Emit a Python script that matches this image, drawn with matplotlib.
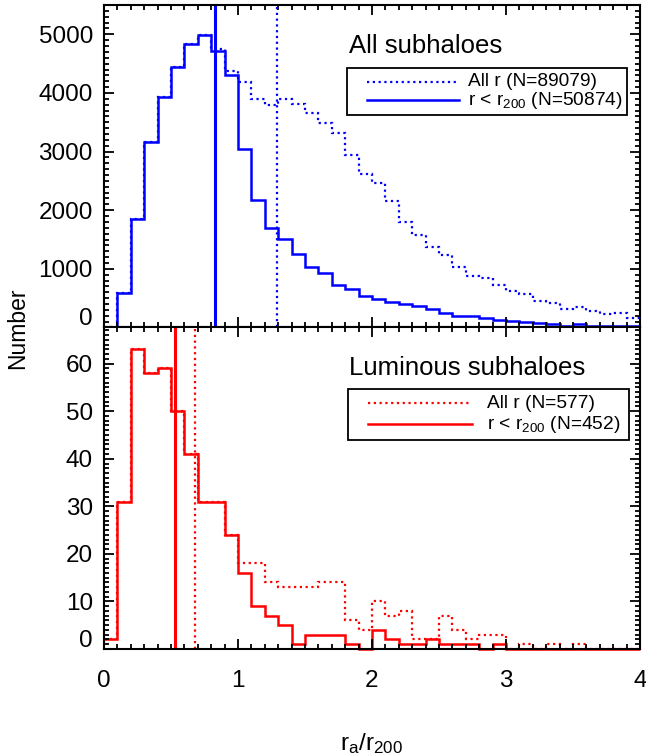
import numpy as np
import matplotlib
matplotlib.use("Agg")
import matplotlib.pyplot as plt
from matplotlib.ticker import MultipleLocator, FuncFormatter
from matplotlib.patches import Rectangle

plt.rcParams['font.family'] = ['Liberation Sans', 'DejaVu Sans']
plt.rcParams['mathtext.fontset'] = 'custom'
plt.rcParams['mathtext.rm'] = 'Liberation Sans'
plt.rcParams['mathtext.it'] = 'Liberation Sans'

# bins in r_a/r_200 (width 0.1, from 0 to 4)
bin_edges = np.round(np.linspace(0.0, 4.0, 41), 2)

# all subhaloes, r < r200 (solid) and all r (dotted)
all_inner = [0, 580, 1850, 3170, 3930, 4440, 4830, 4990, 4720, 4300,
             3040, 2170, 1690, 1510, 1250, 1040, 930, 730, 660, 540,
             490, 440, 400, 360, 315, 245, 200, 190, 170, 126,
             103, 100, 80, 58, 30, 58, 29, 29, 25, 20]
all_total = [0, 580, 1850, 3170, 3930, 4440, 4830, 4990, 4750, 4370,
             4190, 3890, 3800, 3890, 3810, 3660, 3490, 3310, 2950, 2620,
             2460, 2150, 1800, 1570, 1370, 1230, 1040, 880, 840, 730,
             615, 570, 455, 425, 315, 355, 285, 230, 240, 170]

# luminous subhaloes
lum_inner = [2, 31, 63, 58, 59, 50, 41, 31, 31, 24,
             16, 9, 7, 5, 1, 3, 3, 3, 1, 0,
             4, 2, 1, 1, 2, 1, 1, 1, 0, 1,
             0, 0, 0, 0, 0, 0, 0, 0, 0, 0]
lum_total = [2, 31, 63, 58, 59, 50, 41, 31, 31, 24,
             18, 18, 14, 13, 13, 13, 14, 14, 6, 4,
             10, 7, 8, 2, 2, 7, 4, 2, 3, 3,
             0, 1, 0, 1, 0, 1, 0, 0, 0, 0]

# medians
all_med_total, all_med_inner = 1.29, 0.83
lum_med_total, lum_med_inner = 0.68, 0.53

panels = [
    dict(inner=all_inner, total=all_total, med_in=all_med_inner, med_tot=all_med_total,
         color='#0000ff', title='All subhaloes', n_tot=89079, n_in=50874,
         ylim=5500, major=1000, minor=100),
    dict(inner=lum_inner, total=lum_total, med_in=lum_med_inner, med_tot=lum_med_total,
         color='#ff0000', title='Luminous subhaloes', n_tot=577, n_in=452,
         ylim=67.6, major=10, minor=1),
]

fig = plt.figure(figsize=(6.46, 7.56), dpi=100)
L, R = 104 / 646, 640 / 646
tops = [1 - 5 / 756, 1 - 327.5 / 756]
bots = [1 - 327.5 / 756, 1 - 649 / 756]
dots = (0, (1, 1.6))
no_zero = FuncFormatter(lambda v, pos: '' if v == 0 else '%d' % v)

for i, p in enumerate(panels):
    ax = fig.add_axes([L, bots[i], R - L, tops[i] - bots[i]])
    c = p['color']
    ax.stairs(p['total'], bin_edges, color=c, lw=1.6, linestyle=dots, baseline=None, clip_on=False)
    ax.stairs(p['inner'], bin_edges, color=c, lw=1.8, baseline=None, clip_on=False)
    ax.axvline(p['med_tot'], color=c, lw=1.6, linestyle=dots)
    ax.axvline(p['med_in'], color=c, lw=2.2)

    ax.set_xlim(0, 4)
    ax.set_ylim(0, p['ylim'])
    ax.xaxis.set_major_locator(MultipleLocator(1))
    ax.xaxis.set_minor_locator(MultipleLocator(0.1))
    ax.yaxis.set_major_locator(MultipleLocator(p['major']))
    ax.yaxis.set_minor_locator(MultipleLocator(p['minor']))
    ax.yaxis.set_major_formatter(no_zero)
    ax.tick_params(which='both', direction='in', top=True, right=True, width=1.3)
    ax.tick_params(which='major', length=7, labelsize=17.5)
    ax.tick_params(axis='y', which='major', pad=8)
    ax.tick_params(axis='x', which='major', pad=15)
    ax.tick_params(which='minor', length=3.5)
    for s in ax.spines.values():
        s.set_linewidth(1.5)
    if i == 0:
        ax.tick_params(labelbottom=False)
    # zero label sits a little above the axis
    ax.annotate('0', xy=(0, 0), xycoords=('axes fraction', 'data'), xytext=(-8, 6),
                textcoords='offset points', ha='right', va='center', fontsize=17.5)

    # title and hand-drawn legend box
    ax.text(0.457, 0.852, p['title'], transform=ax.transAxes, fontsize=18.5, va='baseline')
    if i == 0:
        bx, by, bw, bh = 0.453, 0.658, 0.523, 0.147
        r1, r2, lx0, lx1, tx = 0.762, 0.705, 0.490, 0.662, 0.679
    else:
        bx, by, bw, bh = 0.455, 0.650, 0.525, 0.158
        r1, r2, lx0, lx1, tx = 0.765, 0.699, 0.4925, 0.686, 0.714
    ax.add_patch(Rectangle((bx, by), bw, bh, transform=ax.transAxes, fill=False,
                           lw=1.3, ec='black'))
    ax.plot([lx0, lx1], [r1, r1], transform=ax.transAxes, color=c, lw=1.6, linestyle=dots)
    ax.plot([lx0, lx1], [r2, r2], transform=ax.transAxes, color=c, lw=1.8)
    ax.text(tx, r1, 'All r (N=%d)' % p['n_tot'], transform=ax.transAxes,
            fontsize=13.8, ha='left', va='center')
    ax.text(tx, r2, r'r < r$_{\mathregular{200}}$ (N=%d)' % p['n_in'], transform=ax.transAxes,
            fontsize=13.8, ha='left', va='center')
    if i == 1:
        ax.set_xlabel(r'$\mathregular{r_a/r_{200}}$', fontsize=17.5, labelpad=28)

fig.text(18 / 646, 1 - 328 / 756, 'Number', rotation=90, fontsize=16.5,
         ha='center', va='center')

fig.savefig('out.png', dpi=100)
